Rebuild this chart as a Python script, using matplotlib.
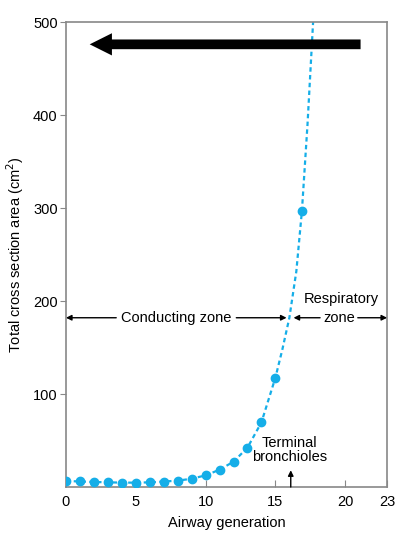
import numpy as np
import matplotlib.pyplot as plt

plt.rcParams['font.family'] = ['Liberation Sans', 'DejaVu Sans']

# measured points (airway generation vs total cross section area, cm2)
gen = [0, 1, 2, 3, 4, 5, 6, 7, 8, 9, 10, 11, 12, 13, 14, 15, 16.9]
area = [6.5, 6.1, 5.4, 5.0, 4.7, 4.7, 5.0, 5.7, 6.8, 8.9, 12.5, 18.6, 27.2, 42.3, 69.5, 117.6, 297]

# dashed trend line
curve_gen = [0, 2, 4, 5, 6, 8, 9, 10, 11, 12, 13, 14, 15, 15.5, 16.0, 16.5, 16.9, 17.3, 17.7]
curve_area = [6.5, 5.4, 4.7, 4.7, 5.0, 6.8, 8.9, 12.5, 18.6, 27.2, 42.3, 69.5, 117.6, 148, 182, 232, 297, 390, 500]

xticks = [0, 5, 10, 15, 20, 23]
yticks = [100, 200, 300, 400, 500]

blue = '#15aee8'
fs = 10.5

fig = plt.figure(figsize=(3.95, 5.33), dpi=100)
ax = fig.add_axes([0.167, 0.0863, 0.813, 0.8724])

ax.plot(curve_gen, curve_area, color=blue, lw=1.6, dashes=(2, 1.5), zorder=2)
ax.plot(gen, area, 'o', color=blue, ms=6, zorder=3)

ax.set_xlim(0, 23)
ax.set_ylim(0, 500)
ax.set_xticks(xticks)
ax.set_yticks(yticks)
ax.tick_params(axis='x', direction='in', length=5, color='#888888', labelsize=fs, pad=6)
ax.tick_params(axis='y', direction='out', length=4, color='#888888', labelsize=fs, pad=2)
for s in ax.spines.values():
    s.set_color('#888888')
    s.set_linewidth(1.2)

ax.set_xlabel('Airway generation', fontsize=fs, labelpad=5)
ax.set_ylabel('Total cross section area (cm$^2$)', fontsize=fs, labelpad=5)

# big arrow
ax.annotate('', xy=(1.7, 476), xytext=(21.1, 476),
            arrowprops=dict(arrowstyle='simple,head_length=1.6,head_width=1.6,tail_width=0.7',
                            color='black', lw=0, shrinkA=0, shrinkB=0))

arr = dict(arrowstyle='-|>', color='black', lw=1, mutation_scale=8, shrinkA=0, shrinkB=0)

# zones
ax.annotate('', xy=(0, 182), xytext=(3.6, 182), arrowprops=arr)
ax.annotate('', xy=(15.8, 182), xytext=(12.2, 182), arrowprops=arr)
ax.text(7.9, 182, 'Conducting zone', fontsize=fs, ha='center', va='center')

ax.annotate('', xy=(16.3, 182), xytext=(18.2, 182), arrowprops=arr)
ax.annotate('', xy=(23, 182), xytext=(20.9, 182), arrowprops=arr)
ax.text(19.6, 182, 'zone', fontsize=fs, ha='center', va='center')
ax.text(19.7, 202, 'Respiratory', fontsize=fs, ha='center', va='center')

ax.text(16.0, 40, 'Terminal\nbronchioles', fontsize=fs, ha='center', va='center', linespacing=1.05)
ax.annotate('', xy=(16.1, 18), xytext=(16.1, 0), arrowprops=arr)

fig.savefig('out.png', dpi=100)
